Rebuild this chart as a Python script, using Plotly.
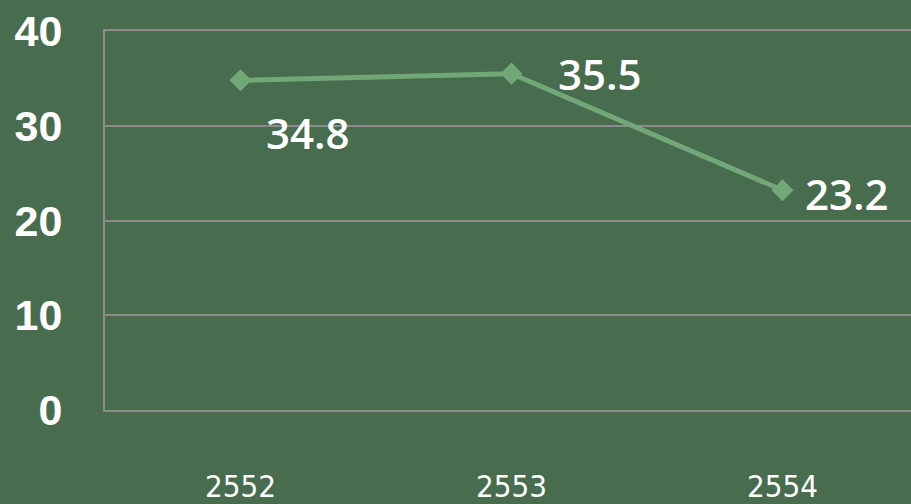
import plotly.graph_objects as go

years = ["2552", "2553", "2554"]
values = [34.8, 35.5, 23.2]
label_texts = ["34.8", "35.5", "23.2"]
y_ticks = [0, 10, 20, 30, 40]

line_color = "rgb(114,168,120)"
grid_color = "rgb(140,140,140)"
bg = "#486c4e"

fig = go.Figure()
fig.add_trace(go.Scatter(
    x=years, y=values, mode="lines+markers",
    line=dict(color=line_color, width=5),
    marker=dict(symbol="diamond", size=17, color=line_color),
    hoverinfo="skip", showlegend=False,
))

offsets = [(67, -52), (88, 0), (64, -3)]
for i, (yv, t, (dx, dy)) in enumerate(zip(values, label_texts, offsets)):
    fig.add_annotation(
        x=i, y=yv, text=t, showarrow=False,
        xshift=dx, yshift=dy,
        font=dict(family="Open Sans", size=42, color="white", weight=600),
        xanchor="center", yanchor="middle",
    )

fig.update_layout(
    width=911, height=504,
    margin=dict(l=105, r=0, t=31, b=94, autoexpand=False),
    paper_bgcolor=bg, plot_bgcolor=bg,
    xaxis=dict(
        type="category", range=[-0.5, 2.474],
        showgrid=False, zeroline=False,
        showline=True, mirror=True, linecolor=grid_color, linewidth=2,
        ticks="", ticklabelstandoff=48, automargin=False,
        tickfont=dict(family="DejaVu Sans Condensed", size=31, color="white"),
    ),
    yaxis=dict(
        range=[0, 40], tickvals=y_ticks,
        ticktext=[str(v) for v in y_ticks],
        showgrid=True, gridcolor=grid_color, gridwidth=2,
        zeroline=True, zerolinecolor=grid_color, zerolinewidth=2,
        showline=True, linecolor=grid_color, linewidth=2,
        ticks="", ticklabelstandoff=32, automargin=False,
        tickfont=dict(family="Liberation Sans", size=43, color="white", weight="bold"),
    ),
)

fig.write_html(
    "out.html",
    config={"displayModeBar": False},
    post_script="document.body.style.margin='0';document.body.style.background='#486c4e';",
)
